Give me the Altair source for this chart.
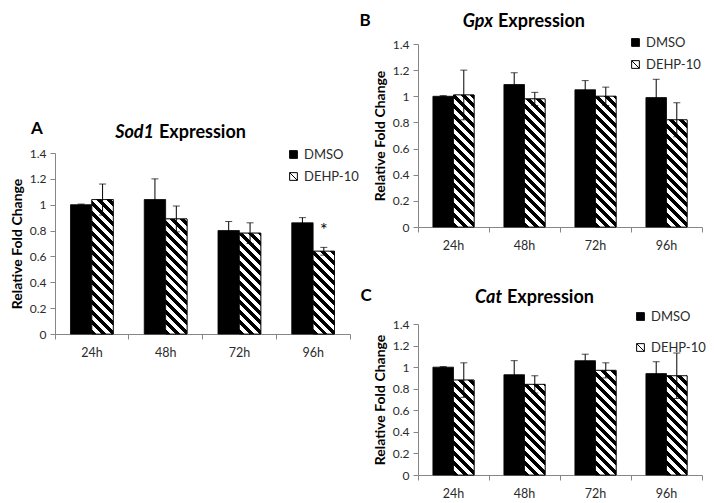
import math
import altair as alt

# ---------------- data ----------------
times = ["24h", "48h", "72h", "96h"]
groups = ["DMSO", "DEHP-10"]
y_ticks = [0, 0.2, 0.4, 0.6, 0.8, 1.0, 1.2, 1.4]

sod1_dmso = [1.00, 1.04, 0.80, 0.86]
sod1_dmso_err = [0.005, 0.16, 0.07, 0.04]
sod1_dehp = [1.04, 0.89, 0.78, 0.64]
sod1_dehp_err = [0.12, 0.10, 0.08, 0.03]
sod1_sig = ["", "", "", "*"]

gpx_dmso = [1.00, 1.09, 1.05, 0.99]
gpx_dmso_err = [0.005, 0.09, 0.07, 0.14]
gpx_dehp = [1.01, 0.98, 1.00, 0.82]
gpx_dehp_err = [0.19, 0.05, 0.07, 0.13]
gpx_sig = ["", "", "", ""]

cat_dmso = [1.00, 0.93, 1.06, 0.94]
cat_dmso_err = [0.005, 0.13, 0.06, 0.11]
cat_dehp = [0.88, 0.84, 0.97, 0.92]
cat_dehp_err = [0.16, 0.08, 0.07, 0.21]
cat_sig = ["", "", "", ""]

# ---------------- styling ----------------
FONT = "Lato"
AXIS_GRAY = "#868686"
LABEL_COLOR = "#2b2b2b"
BAR_FRACTION = 0.58          # share of each category step covered by the two bars
XOFF_PAD = (2 / BAR_FRACTION - 2) / 2


def hatch(w, h, period=7.0):
    """Diagonal (\\) black/white stripes as a linear gradient in bbox units."""
    r = h / w
    s = (1 + r) / (1 + r * r)
    n = (w + h) / (math.sqrt(2) * period)
    step = 1.0 / n
    stops = []
    i = 0
    while i * step < 1:
        a = i * step
        b = min((i + 0.5) * step, 1.0)
        c = min((i + 1) * step, 1.0)
        stops += [
            {"offset": a, "color": "black"},
            {"offset": b, "color": "black"},
            {"offset": b, "color": "white"},
            {"offset": c, "color": "white"},
        ]
        i += 1
    return {"gradient": "linear", "x1": 0, "y1": 1, "x2": s, "y2": 1 - s * r, "stops": stops}


def build_rows(dmso, dmso_err, dehp, dehp_err, sig, width, y_range):
    step = width / len(times)
    w = step * BAR_FRACTION / 2
    k = abs(y_range[0] - y_range[1]) / 1.4
    rows = []
    for i, t in enumerate(times):
        rows.append({"time": t, "group": "DMSO", "value": dmso[i],
                     "lo": dmso[i] - dmso_err[i], "hi": dmso[i] + dmso_err[i], "sig": ""})
        rows.append({"time": t, "group": "DEHP-10", "value": dehp[i],
                     "lo": dehp[i] - dehp_err[i], "hi": dehp[i] + dehp_err[i], "sig": sig[i],
                     "grad": hatch(w, dehp[i] * k)})
    return rows


def text_mark(txt, x, y, size, style="normal", align="center"):
    return alt.Chart(alt.Data(values=[{"t": txt}])).mark_text(
        font=FONT, fontSize=size, fontWeight="bold", fontStyle=style,
        align=align, baseline="alphabetic", color="black", fill="black",
    ).encode(x=alt.value(x), y=alt.value(y), text="t:N")


def panel(rows, width, y_range, x_axis_offset, legend_x, legend_y, legend_row_pad,
          letter, letter_xy, gene, gene_right_x, title_y):
    base = alt.Chart(alt.Data(values=rows))

    x = alt.X(
        "time:N", sort=times,
        scale=alt.Scale(paddingInner=0, paddingOuter=0),
        axis=alt.Axis(
            orient="bottom", title=None, labelAngle=0, labelFont=FONT,
            labelFontSize=12.5, labelColor=LABEL_COLOR, labelPadding=7, tickSize=5,
            tickColor=AXIS_GRAY, domainColor=AXIS_GRAY, bandPosition=1,
            tickExtra=True, offset=x_axis_offset, grid=False,
        ),
    )
    xo = alt.XOffset(
        "group:N", sort=groups,
        scale=alt.Scale(domain=groups, paddingInner=0, paddingOuter=XOFF_PAD),
    )

    def ydef(field):
        return alt.Y(
            f"{field}:Q", stack=None,
            scale=alt.Scale(domain=[0, 1.4], range=y_range, nice=False, zero=True),
            axis=alt.Axis(
                orient="left", values=y_ticks, format="~g", title="Relative Fold Change",
                titleFont=FONT, titleFontSize=14, titleFontWeight="bold",
                titleColor="black", titlePadding=5, labelFont=FONT,
                labelFontSize=12, labelColor=LABEL_COLOR, labelPadding=4,
                tickSize=5, tickColor=AXIS_GRAY, domainColor=AXIS_GRAY, grid=False,
            ),
        )

    color = alt.Color(
        "group:N",
        scale=alt.Scale(domain=groups, range=["black", "white"]),
        legend=alt.Legend(
            title=None, orient="none", legendX=legend_x, legendY=legend_y,
            labelFont=FONT, labelFontSize=13, labelColor=LABEL_COLOR,
            symbolType="M-1,-1H1V1H-1ZM-1,-1L1,1", symbolSize=60,
            symbolStrokeColor="black", symbolStrokeWidth=1, symbolOffset=0,
            labelOffset=4, rowPadding=legend_row_pad, padding=0,
        ),
    )

    bars = base.mark_bar(stroke="black", strokeWidth=0.8).encode(
        x=x, xOffset=xo, y=ydef("value"), color=color,
    )
    hatched = base.transform_filter(alt.datum.group == "DEHP-10").mark_bar(
        stroke="black", strokeWidth=0.8
    ).encode(
        x=x, xOffset=xo, y=ydef("value"), fill=alt.Fill("grad:N", scale=None),
    )
    err = base.mark_rule(color="black", strokeWidth=1).encode(
        x=x, xOffset=xo, y=ydef("lo"), y2="hi:Q",
    )
    cap_hi = base.mark_tick(color="black", thickness=1, size=7).encode(
        x=x, xOffset=xo, y=ydef("hi"),
    )
    cap_lo = base.mark_tick(color="black", thickness=1, size=7).encode(
        x=x, xOffset=xo, y=ydef("lo"),
    )
    star = base.transform_filter(alt.datum.sig != "").mark_text(
        font=FONT, fontSize=18, color="black", fill="black", dy=-11,
        baseline="alphabetic",
    ).encode(x=x, xOffset=xo, y=ydef("hi"), text="sig:N")

    letter_mark = text_mark(letter, letter_xy[0], letter_xy[1], 17)
    gene_mark = text_mark(gene, gene_right_x, title_y, 18, style="italic", align="right")
    expr_mark = text_mark("Expression", gene_right_x + 5, title_y, 18, align="left")

    return alt.layer(bars, hatched, err, cap_hi, cap_lo, star,
                     letter_mark, gene_mark, expr_mark)


# ---------------- layout ----------------
A_W, A_H = 295, 290
A_RANGE = [290, 109]
BC_W, BC_H = 284, 431
B_RANGE = [183, 0]
C_RANGE = [431, 280]

panel_a = panel(
    build_rows(sod1_dmso, sod1_dmso_err, sod1_dehp, sod1_dehp_err, sod1_sig, A_W, A_RANGE),
    A_W, A_RANGE, 0, 232, 104, 8, "A", (-18, 90), "Sod1", 99, 94,
).properties(width=A_W, height=A_H)

panel_b = panel(
    build_rows(gpx_dmso, gpx_dmso_err, gpx_dehp, gpx_dehp_err, gpx_sig, BC_W, B_RANGE),
    BC_W, B_RANGE, -(BC_H - B_RANGE[0]), 211, -8, 8, "B", (-53, -18), "Gpx", 75, -16.6,
)
panel_c = panel(
    build_rows(cat_dmso, cat_dmso_err, cat_dehp, cat_dehp_err, cat_sig, BC_W, C_RANGE),
    BC_W, C_RANGE, 0, 216, 266, 17, "C", (-52, 257), "Cat", 84, 259,
)

panel_bc = alt.layer(panel_b, panel_c).resolve_scale(
    x="independent", y="independent", xOffset="independent", color="independent",
).resolve_axis(x="independent", y="independent").resolve_legend(
    color="independent"
).properties(width=BC_W, height=BC_H)

chart = alt.hconcat(panel_a, panel_bc, spacing=68, bounds="flush").resolve_scale(
    color="independent", y="independent", x="independent",
).resolve_legend(color="independent").properties(
    padding={"left": 2, "top": 4, "right": 0, "bottom": 0}, background="white",
).configure_view(stroke=None)

chart.save("out.html", embed_options={"renderer": "svg", "actions": False})
